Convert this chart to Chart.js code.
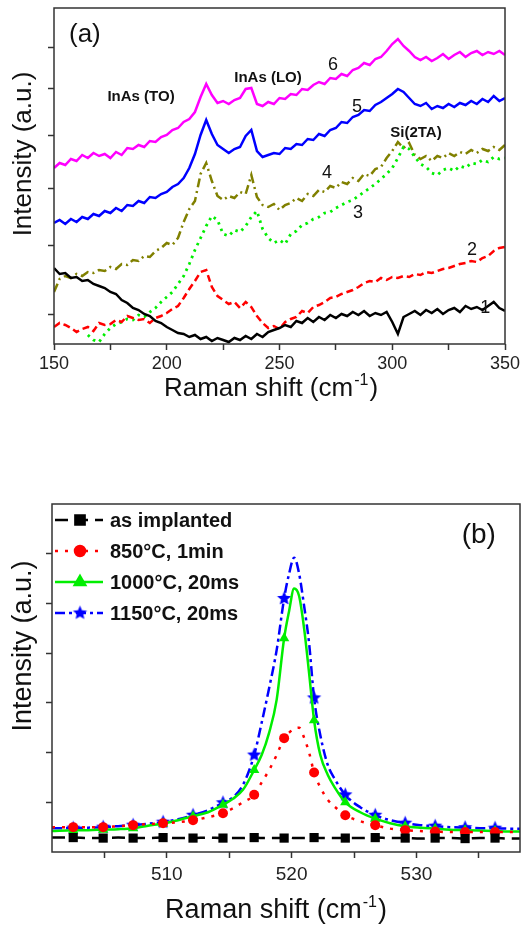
<!DOCTYPE html>
<html>
<head>
<meta charset="utf-8">
<title>Espectros Raman</title>
<script src="https://cdn.jsdelivr.net/npm/chart.js@4.4.0/dist/chart.umd.min.js"></script>
<style>
  html, body { margin: 0; padding: 0; background: #fff; }
  #painel { position: relative; width: 529px; height: 927px; }
  canvas { position: absolute; left: 0; }
  #espectroA { top: 0; }
  #espectroB { top: 460px; }
</style>
</head>
<body>
<div id="painel">
  <canvas id="espectroA" width="529" height="406"></canvas>
  <canvas id="espectroB" width="529" height="467"></canvas>
</div>
<script>
// Código para configurar o eixo x do painel (a) - deslocamento Raman (cm-1)
const shiftA = [
  150, 152.5, 155, 157.5, 160, 162.5, 165, 167.5, 170, 172.5,
  175, 177.5, 180, 182.5, 185, 187.5, 190, 192.5, 195, 197.5,
  200, 202.5, 205, 207.5, 210, 212.5, 215, 217.5, 220, 222.5,
  225, 227.5, 230, 232.5, 235, 237.5, 240, 242.5, 245, 247.5,
  250, 252.5, 255, 257.5, 260, 262.5, 265, 267.5, 270, 272.5,
  275, 277.5, 280, 282.5, 285, 287.5, 290, 292.5, 295, 297.5,
  300, 302.5, 305, 307.5, 310, 312.5, 315, 317.5, 320, 322.5,
  325, 327.5, 330, 332.5, 335, 337.5, 340, 342.5, 345, 347.5,
  350
];

// Intensidades (u.a.) das amostras 1 a 6
const curve1 = [
  76, 70, 71, 66, 67, 63, 64, 60, 58, 56,
  52, 50, 44, 41, 36, 34, 30, 28, 23, 21,
  17, 14, 11, 10, 7, 9, 5, 7, 3, 6,
  4, 2, 6, 4, 8, 5, 10, 7, 12, 14,
  16, 19, 17, 23, 21, 26, 22, 27, 24, 29,
  26, 30, 28, 32, 29, 33, 28, 31, 29, 32,
  22, 10, 27, 30, 33, 29, 34, 31, 35, 30,
  34, 36, 32, 38, 35, 37, 34, 38, 42, 36,
  33
];
const curve2 = [
  17, 21, 19, 16, 12, 15, 17, 13, 21, 19,
  20, 24, 22, 28, 26, 24, 25, 21, 26, 28,
  31, 35, 38, 46, 55, 63, 72, 74, 57, 48,
  44, 40, 42, 36, 42, 37, 28, 21, 16, 18,
  15, 22, 25, 27, 33, 31, 37, 39, 42, 46,
  47, 50, 52, 54, 57, 61, 63, 62, 66, 64,
  67, 66, 68, 67, 70, 69, 72, 71, 73, 75,
  76, 78, 80, 81, 83, 82, 86, 88, 93, 96,
  97
];
const curve3 = [
  null, null, null, null, null, null, 9, 4, 2, 10,
  16, 20, 22, 25, 24, 29, 27, 32, 36, 42,
  47, 52, 60, 68, 80, 94, 106, 118, 128, 124,
  110, 108, 114, 112, 118, 127, 133, 115, 106, 101,
  104, 100, 110, 113, 119, 121, 125, 127, 131, 132,
  136, 139, 142, 144, 148, 152, 156, 160, 165, 170,
  176, 186, 197, 195, 187, 180, 177, 171, 169, 174,
  176, 173, 178, 176, 181, 180, 184, 182, 187, 185,
  186
];
const curve4 = [
  52, 65, 68, 66, 70, 68, 72, 71, 74, 73,
  77, 75, 80, 79, 84, 83, 88, 87, 93, 96,
  101, 99, 106, 122, 135, 143, 170, 181, 163, 148,
  144, 148, 146, 152, 150, 169, 147, 139, 137, 140,
  134, 139, 141, 146, 143, 150, 148, 154, 152, 158,
  156, 162, 160, 166, 163, 170, 168, 175, 177, 186,
  193, 202, 196, 201, 189, 185, 188, 183, 188, 186,
  191, 188, 192, 190, 194, 191, 195, 193, 197, 194,
  199
];
const curve5 = [
  121, 124, 120, 125, 122, 127, 125, 130, 128, 133,
  131, 136, 133, 139, 138, 143, 141, 147, 146, 150,
  152, 157, 160, 166, 176, 190, 209, 224, 210, 199,
  195, 191, 195, 197, 208, 214, 193, 187, 189, 191,
  190, 196, 195, 200, 199, 205, 204, 210, 208, 214,
  216, 222, 221, 227, 229, 234, 233, 239, 242, 246,
  250, 255, 252, 246, 240, 238, 241, 235, 238, 236,
  240, 237, 241, 239, 243, 240, 245, 242, 248, 243,
  246
];
const curve6 = [
  176, 181, 179, 185, 183, 189, 186, 191, 188, 190,
  186, 192, 189, 196, 195, 199, 197, 203, 202, 207,
  209, 214, 216, 222, 225, 232, 247, 260, 249, 241,
  243, 240, 244, 246, 255, 256, 240, 238, 242, 240,
  246, 245, 250, 249, 255, 254, 259, 262, 260, 266,
  265, 270, 268, 274, 276, 281, 279, 285, 287, 293,
  300, 305, 298, 293, 287, 284, 287, 283, 286, 290,
  285, 289, 292, 287, 291, 293, 289, 292, 290, 293,
  289
];

// Marcas dos eixos do painel (a)
const ticksXA = [150, 175, 200, 225, 250, 275, 300, 325, 350];
const labelsXA = [150, 200, 250, 300, 350];
const ticksYA = [30, 98, 156, 209, 256, 297];

// Código para configurar o eixo x do painel (b) - pico do Si
const shiftB = [
  500.8, 502.5, 503.7, 504.9, 506.1, 507.3, 508.5, 509.7, 510.9, 512.1,
  513.3, 514.5, 515.3, 516.1, 517.0, 517.6, 518.2, 518.8, 519.4, 519.8,
  520.2, 520.6, 521.0, 521.4, 521.8, 522.3, 522.9, 523.5, 524.3, 525.5,
  526.7, 527.9, 529.1, 530.3, 531.5, 532.7, 533.9, 535.1, 536.3, 537.4,
  538.3
];
// posições onde aparecem os marcadores
const markerShifts = [502.5, 504.9, 507.3, 509.7, 512.1, 514.5, 517.0, 519.4,
  521.8, 524.3, 526.7, 529.1, 531.5, 533.9, 536.3];

const asImplanted = [
  0.29, 0.29, 0.28, 0.28, 0.29, 0.28, 0.28, 0.29, 0.28, 0.28,
  0.29, 0.28, 0.28, 0.28, 0.29, 0.28, 0.28, 0.28, 0.28, 0.29,
  0.28, 0.28, 0.28, 0.28, 0.29, 0.28, 0.28, 0.28, 0.28, 0.28,
  0.29, 0.28, 0.28, 0.27, 0.28, 0.28, 0.27, 0.28, 0.28, 0.27,
  0.27
];
const rta850 = [
  0.5, 0.5, 0.5, 0.5, 0.52, 0.54, 0.56, 0.58, 0.6, 0.64,
  0.7, 0.78, 0.88, 1.0, 1.15, 1.4, 1.65, 1.95, 2.29, 2.4,
  2.48, 2.5, 2.3, 2.0, 1.6, 1.3, 1.05, 0.9, 0.74, 0.62,
  0.54, 0.47, 0.44, 0.42, 0.41, 0.4, 0.4, 0.4, 0.4, 0.4,
  0.4
];
const fla1000 = [
  0.42, 0.44, 0.44, 0.45, 0.46, 0.48, 0.53, 0.57, 0.64, 0.72,
  0.8, 0.95, 1.07, 1.25, 1.65, 1.95, 2.4, 3.06, 4.3, 4.85,
  5.3, 5.15, 4.5, 3.6, 2.65, 1.95, 1.55, 1.28, 1.0, 0.8,
  0.67, 0.58, 0.52, 0.49, 0.47, 0.45, 0.44, 0.43, 0.42, 0.41,
  0.41
];
const fla1150 = [
  0.48, 0.48, 0.49, 0.5, 0.52, 0.54, 0.57, 0.6, 0.66, 0.74,
  0.84, 0.99, 1.1, 1.35, 1.95, 2.6, 3.3, 4.06, 5.1, 5.6,
  5.92, 5.6, 4.95, 4.2, 3.1, 2.35, 1.75, 1.45, 1.15, 0.9,
  0.74, 0.64, 0.58, 0.54, 0.52, 0.5, 0.49, 0.48, 0.48, 0.47,
  0.47
];

// Marcas dos eixos do painel (b)
const ticksXB = [505, 510, 515, 520, 525, 530, 535];
const labelsXB = [510, 520, 530];
const ticksYB = [1, 2, 3, 4, 5, 6];

const FONTE = 'Arial, "Liberation Sans", sans-serif';
Chart.defaults.font.family = FONTE;
Chart.defaults.color = '#222';

// junta eixo x e intensidade no formato {x, y}
function pares(xs, ys) {
  return xs.map((x, i) => ({ x: x, y: ys[i] }));
}

// estrela cheia de 5 pontas para o marcador da amostra 1150 C
function estrela(cor, r) {
  const c = document.createElement('canvas');
  c.width = c.height = 2 * r + 2;
  const g = c.getContext('2d');
  g.fillStyle = cor;
  g.beginPath();
  for (let i = 0; i < 10; i++) {
    const ang = -Math.PI / 2 + i * Math.PI / 5;
    const rr = i % 2 ? r * 0.45 : r;
    g.lineTo(r + 1 + rr * Math.cos(ang), r + 1 + rr * Math.sin(ang));
  }
  g.closePath();
  g.fill();
  return c;
}
const starImg = estrela('#0000ff', 7.5);

// raio do marcador só nas posições da lista
function marcador(r) {
  return (ctx) => (ctx.raw && markerShifts.includes(ctx.raw.x)) ? r : 0;
}

// moldura em volta da área do gráfico
const moldura = {
  id: 'moldura',
  afterDatasetsDraw(chart) {
    const { ctx, chartArea: a } = chart;
    ctx.save();
    ctx.strokeStyle = '#333';
    ctx.lineWidth = 1.5;
    ctx.strokeRect(a.left, a.top, a.right - a.left, a.bottom - a.top);
    ctx.restore();
  }
};

// títulos dos eixos e anotações de texto
const textos = {
  id: 'textos',
  afterDraw(chart, args, opts) {
    const { ctx, scales } = chart;
    ctx.save();
    ctx.fillStyle = '#111';

    (opts.notas || []).forEach((n) => {
      ctx.font = n.font;
      ctx.textAlign = 'center';
      ctx.textBaseline = 'middle';
      ctx.fillText(n.text, scales.x.getPixelForValue(n.x), scales.y.getPixelForValue(n.y));
    });

    // título do eixo y (girado)
    ctx.save();
    ctx.font = opts.tamanho + 'px ' + FONTE;
    ctx.translate(opts.yTitulo.x, opts.yTitulo.y);
    ctx.rotate(-Math.PI / 2);
    ctx.textAlign = 'center';
    ctx.textBaseline = 'alphabetic';
    ctx.fillText('Intensity (a.u.)', 0, 0);
    ctx.restore();

    // título do eixo x com o expoente -1
    const s = opts.tamanho;
    const p1 = 'Raman shift (cm', p2 = '-1', p3 = ')';
    ctx.textAlign = 'left';
    ctx.textBaseline = 'alphabetic';
    ctx.font = s + 'px ' + FONTE;
    const w1 = ctx.measureText(p1).width;
    const w3 = ctx.measureText(p3).width;
    ctx.font = Math.round(s * 0.6) + 'px ' + FONTE;
    const w2 = ctx.measureText(p2).width;
    let x0 = opts.xTitulo.cx - (w1 + w2 + w3) / 2;
    const yb = opts.xTitulo.y;
    ctx.font = s + 'px ' + FONTE;
    ctx.fillText(p1, x0, yb);
    ctx.font = Math.round(s * 0.6) + 'px ' + FONTE;
    ctx.fillText(p2, x0 + w1 + 1, yb - s * 0.42);
    ctx.font = s + 'px ' + FONTE;
    ctx.fillText(p3, x0 + w1 + w2 + 2, yb);
    ctx.restore();
  }
};

// legenda do painel (b): traço + marcador + texto
const legendaB = {
  id: 'legendaB',
  afterDraw(chart) {
    const { ctx, chartArea: a } = chart;
    ctx.save();
    chart.data.datasets.forEach((ds, i) => {
      const y = a.top + 16 + i * 31;
      ctx.strokeStyle = ds.borderColor;
      ctx.lineWidth = ds.borderWidth;
      ctx.setLineDash(ds.borderDash || []);
      ctx.beginPath();
      ctx.moveTo(a.left + 3, y);
      ctx.lineTo(a.left + 51, y);
      ctx.stroke();
      ctx.setLineDash([]);
      ctx.fillStyle = ds.borderColor;
      Chart.helpers.drawPoint(ctx, {
        pointStyle: ds.pointStyle, radius: ds.legendRadius, rotation: 0, borderWidth: 1
      }, a.left + 28, y);
      ctx.fillStyle = '#111';
      ctx.font = 'bold 20px ' + FONTE;
      ctx.textAlign = 'left';
      ctx.textBaseline = 'middle';
      ctx.fillText(ds.label, a.left + 58, y + 1);
    });
    ctx.restore();
  }
};

const gradeEixo = { drawOnChartArea: false, tickLength: 6, tickWidth: 1.5, tickColor: '#333' };

// Gráfico (a): espectros de baixa frequência das amostras 1-6
const linhaA = { pointRadius: 0, borderWidth: 2.5, tension: 0, fill: false };
new Chart(document.getElementById('espectroA'), {
  type: 'line',
  data: {
    datasets: [
      Object.assign({ label: '1', data: pares(shiftA, curve1), borderColor: '#000000' }, linhaA),
      Object.assign({ label: '2', data: pares(shiftA, curve2), borderColor: '#ff0000' }, linhaA, { borderDash: [7, 4] }),
      Object.assign({ label: '3', data: pares(shiftA, curve3), borderColor: '#00ee00' }, linhaA, { borderDash: [2.5, 4.5], borderWidth: 2.8 }),
      Object.assign({ label: '4', data: pares(shiftA, curve4), borderColor: '#808000' }, linhaA, { borderDash: [9, 4, 2, 4] }),
      Object.assign({ label: '5', data: pares(shiftA, curve5), borderColor: '#0000ff' }, linhaA),
      Object.assign({ label: '6', data: pares(shiftA, curve6), borderColor: '#ff00ff' }, linhaA)
    ]
  },
  options: {
    responsive: false,
    animation: false,
    events: [],
    layout: { padding: { top: 8, right: 24, left: 0, bottom: 0 } },
    plugins: {
      legend: { display: false },
      tooltip: { enabled: false },
      textos: {
        tamanho: 26,
        yTitulo: { x: 31, y: 154 },
        xTitulo: { cx: 270, y: 396 },
        notas: [
          { text: '(a)', x: 163.7, y: 309, font: '26px ' + FONTE },
          { text: 'InAs (TO)', x: 188.6, y: 247, font: 'bold 15px ' + FONTE },
          { text: 'InAs (LO)', x: 244.9, y: 266, font: 'bold 15px ' + FONTE },
          { text: 'Si(2TA)', x: 310.5, y: 211, font: 'bold 15px ' + FONTE },
          { text: '6', x: 273.7, y: 279, font: '18px ' + FONTE },
          { text: '5', x: 284.4, y: 237, font: '18px ' + FONTE },
          { text: '4', x: 271.1, y: 171, font: '18px ' + FONTE },
          { text: '3', x: 284.8, y: 131, font: '18px ' + FONTE },
          { text: '2', x: 335.4, y: 94, font: '18px ' + FONTE },
          { text: '1', x: 341.2, y: 36, font: '18px ' + FONTE }
        ]
      }
    },
    scales: {
      x: {
        type: 'linear', min: 150, max: 350,
        afterBuildTicks: (s) => { s.ticks = ticksXA.map((v) => ({ value: v })); },
        afterFit: (s) => { s.height = 62; },
        ticks: {
          autoSkip: false, maxRotation: 0, padding: 3, color: '#222', font: { size: 18 },
          callback: (v) => labelsXA.includes(v) ? String(v) : ''
        },
        grid: gradeEixo,
        border: { display: false }
      },
      y: {
        type: 'linear', min: 0, max: 336,
        afterBuildTicks: (s) => { s.ticks = ticksYA.map((v) => ({ value: v })); },
        afterFit: (s) => { s.width = 54; },
        ticks: { display: false },
        grid: gradeEixo,
        border: { display: false }
      }
    }
  },
  plugins: [moldura, textos]
});

// Gráfico (b): pico do Si em 520 cm-1 após os recozimentos
new Chart(document.getElementById('espectroB'), {
  type: 'line',
  data: {
    datasets: [
      {
        label: 'as implanted', data: pares(shiftB, asImplanted),
        borderColor: '#000000', backgroundColor: '#000000', borderWidth: 2.5, borderDash: [13, 7],
        pointStyle: 'rect', pointRadius: marcador(6.5), legendRadius: 6.5, pointBorderWidth: 0
      },
      {
        label: '850°C, 1min', data: pares(shiftB, rta850),
        borderColor: '#ff0000', backgroundColor: '#ff0000', borderWidth: 2.5, borderDash: [3, 7],
        pointStyle: 'circle', pointRadius: marcador(5), legendRadius: 5, pointBorderWidth: 0
      },
      {
        label: '1000°C, 20ms', data: pares(shiftB, fla1000),
        borderColor: '#00ee00', backgroundColor: '#00ee00', borderWidth: 2.5,
        pointStyle: 'triangle', pointRadius: marcador(6), legendRadius: 6, pointBorderWidth: 0
      },
      {
        label: '1150°C, 20ms', data: pares(shiftB, fla1150),
        borderColor: '#0000ff', backgroundColor: '#0000ff', borderWidth: 2.5, borderDash: [10, 4, 3, 4],
        pointStyle: starImg, pointRadius: marcador(7), legendRadius: 7, pointBorderWidth: 0
      }
    ]
  },
  options: {
    responsive: false,
    animation: false,
    events: [],
    elements: { line: { tension: 0.3, cubicInterpolationMode: 'monotone' } },
    layout: { padding: { top: 44, right: 9, left: 0, bottom: 0 } },
    plugins: {
      legend: { display: false },
      tooltip: { enabled: false },
      textos: {
        tamanho: 27,
        yTitulo: { x: 31, y: 186 },
        xTitulo: { cx: 275, y: 458 },
        notas: [
          { text: '(b)', x: 535.0, y: 6.38, font: '28px ' + FONTE }
        ]
      }
    },
    scales: {
      x: {
        type: 'linear', min: 500.8, max: 538.3,
        afterBuildTicks: (s) => { s.ticks = ticksXB.map((v) => ({ value: v })); },
        afterFit: (s) => { s.height = 75; },
        ticks: {
          autoSkip: false, maxRotation: 0, padding: 5, color: '#222', font: { size: 19 },
          callback: (v) => labelsXB.includes(v) ? String(v) : ''
        },
        grid: gradeEixo,
        border: { display: false }
      },
      y: {
        type: 'linear', min: 0, max: 7,
        afterBuildTicks: (s) => { s.ticks = ticksYB.map((v) => ({ value: v })); },
        afterFit: (s) => { s.width = 52; },
        ticks: { display: false },
        grid: gradeEixo,
        border: { display: false }
      }
    }
  },
  plugins: [moldura, textos, legendaB]
});
</script>
</body>
</html>
